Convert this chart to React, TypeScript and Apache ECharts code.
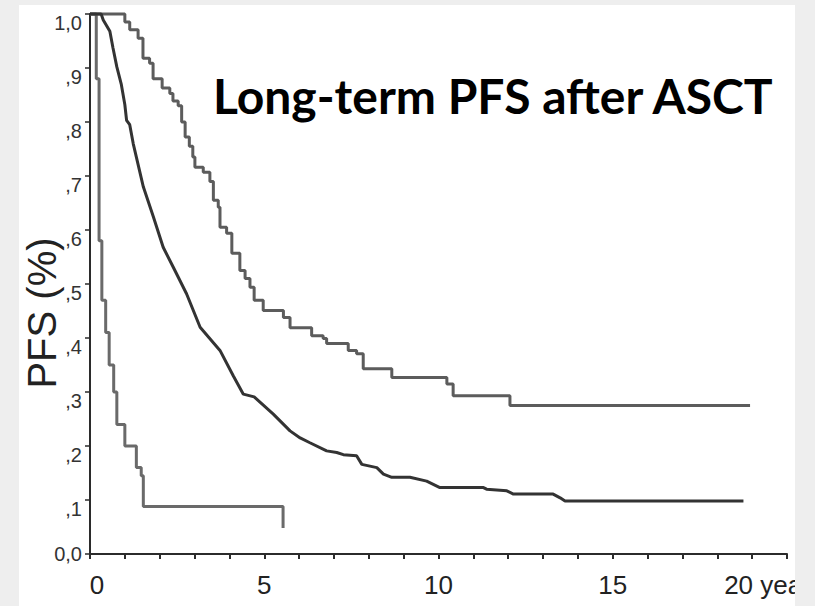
import React, { useEffect, useRef } from "react";
import * as echarts from "echarts";

// Kaplan-Meier curves: [years, PFS]
const curveFast: [number, number][] = [
  [0, 1], [0.18, 0.88], [0.26, 0.58], [0.34, 0.47], [0.45, 0.41], [0.55, 0.35],
  [0.68, 0.3], [0.77, 0.24], [1.0, 0.2], [1.33, 0.16], [1.47, 0.145], [1.53, 0.088],
  [5.54, 0.088], [5.54, 0.048],
];

const curveUpper: [number, number][] = [
  [0, 1], [1.0, 0.985], [1.14, 0.971], [1.38, 0.955], [1.52, 0.918], [1.71, 0.909],
  [1.81, 0.88], [2.07, 0.863], [2.29, 0.853], [2.38, 0.839], [2.53, 0.83], [2.63, 0.8],
  [2.73, 0.772], [2.85, 0.755], [2.95, 0.735], [3.01, 0.716], [3.25, 0.707], [3.44, 0.69],
  [3.54, 0.655], [3.68, 0.642], [3.73, 0.605], [3.92, 0.594], [4.07, 0.557], [4.3, 0.525],
  [4.45, 0.51], [4.59, 0.494], [4.71, 0.47], [4.97, 0.451], [5.55, 0.438], [5.74, 0.419],
  [6.36, 0.404], [6.69, 0.399], [6.79, 0.39], [7.41, 0.377], [7.65, 0.371], [7.84, 0.343],
  [8.66, 0.327], [10.24, 0.315], [10.42, 0.293], [12.05, 0.275], [18.94, 0.275],
];

const curveMiddle: [number, number][] = [
  [0, 1], [0.32, 1.0], [0.38, 0.989], [0.57, 0.968], [0.66, 0.937], [0.77, 0.902],
  [0.9, 0.869], [1.0, 0.832], [1.05, 0.803], [1.14, 0.795], [1.24, 0.76], [1.53, 0.68],
  [1.82, 0.624], [2.1, 0.568], [2.39, 0.531], [2.77, 0.482], [3.16, 0.42], [3.73, 0.377],
  [4.11, 0.33], [4.4, 0.296], [4.71, 0.291], [5.26, 0.259], [5.74, 0.228], [6.03, 0.215],
  [6.31, 0.206], [6.79, 0.191], [7.08, 0.188], [7.27, 0.184], [7.65, 0.182], [7.8, 0.166],
  [8.23, 0.16], [8.42, 0.148], [8.66, 0.142], [9.18, 0.142], [9.66, 0.135], [10.04, 0.123],
  [11.29, 0.123], [11.38, 0.12], [11.96, 0.117], [12.15, 0.111], [13.29, 0.111],
  [13.49, 0.104], [13.63, 0.098], [18.75, 0.098],
];

const xLabelMap: Record<number, string> = { 0: "0", 5: "5", 10: "10", 15: "15", 20: "20 years" };
const yLabelMap: Record<number, string> = {
  0: "0,0", 1: ",1", 2: ",2", 3: ",3", 4: ",4", 5: ",5", 6: ",6", 7: ",7", 8: ",8", 9: ",9", 10: "1,0",
};
const titleText = "Long-term PFS after ASCT";
const yAxisTitle = "PFS (%)";

export default function App() {
  const ref = useRef<HTMLDivElement>(null);
  useEffect(() => {
    const chart = echarts.init(ref.current!, null, { renderer: "svg" });
    const axisColor = "#2b2b2b";
    chart.setOption({
      animation: false,
      backgroundColor: "#eeeeee",
      grid: { left: 90, top: 14, right: 28, bottom: 52, containLabel: false, outerBoundsMode: "none" },
      xAxis: {
        type: "value",
        min: 0,
        max: 20,
        interval: 1,
        axisLine: { show: true, lineStyle: { color: axisColor, width: 2 } },
        axisTick: { show: true, inside: false, length: 5, lineStyle: { color: axisColor, width: 2 } },
        splitLine: { show: false },
        axisLabel: {
          margin: 18,
          hideOverlap: false,
          formatter: (v: number) => {
            const k = Math.round(v);
            if (!(k in xLabelMap)) return "";
            if (k === 0) return "{z|0}";
            if (k === 20) return "{e|" + xLabelMap[k] + "}";
            return "{n|" + xLabelMap[k] + "}";
          },
          rich: {
            n: { fontFamily: "Liberation Sans, Arial", fontSize: 26, color: "#222" },
            z: { fontFamily: "Liberation Sans, Arial", fontSize: 26, color: "#222", padding: [0, 0, 0, 14] },
            e: { fontFamily: "Liberation Sans, Arial", fontSize: 26, color: "#222", padding: [0, 26, 0, 0] },
          },
        },
      },
      yAxis: {
        type: "value",
        min: 0,
        max: 1,
        interval: 0.1,
        axisLine: { show: true, lineStyle: { color: axisColor, width: 2 } },
        axisTick: { show: true, inside: false, length: 5, lineStyle: { color: axisColor, width: 1.5 } },
        splitLine: { show: false },
        axisLabel: {
          margin: 8,
          formatter: (v: number) => {
            const k = Math.round(v * 10);
            return k === 0 ? "{z|" + yLabelMap[k] + "}" : "{n|" + yLabelMap[k] + "}";
          },
          rich: {
            n: { fontFamily: "Liberation Sans, Arial", fontSize: 20, color: "#333", padding: [18, 0, 0, 0] },
            z: { fontFamily: "Liberation Sans, Arial", fontSize: 20, color: "#333" },
          },
        },
      },
      graphic: [
        {
          type: "rect",
          z: -10,
          silent: true,
          shape: { x: 19, y: 5, width: 776, height: 601 },
          style: { fill: "#ffffff" },
        },
        {
          type: "rect",
          z: 100,
          silent: true,
          shape: { x: 795, y: 0, width: 20, height: 606 },
          style: { fill: "#eeeeee" },
        },
        {
          type: "text",
          z: 50,
          x: 213,
          y: 71,
          style: {
            text: titleText,
            fontFamily: "Lato",
            fontWeight: "bold",
            fontSize: 48,
            fill: "#000",
            textVerticalAlign: "top",
          },
        },
        {
          type: "text",
          z: 50,
          x: 42,
          y: 313,
          rotation: Math.PI / 2,
          style: {
            text: yAxisTitle,
            fontFamily: "Liberation Sans, Arial",
            fontSize: 40,
            fill: "#222",
            align: "center",
            verticalAlign: "middle",
          },
        },
      ],
      series: [
        {
          type: "line",
          step: "end",
          data: curveFast,
          symbol: "none",
          clip: false,
          lineStyle: { color: "#6a6a6a", width: 3 },
        },
        {
          type: "line",
          step: "end",
          data: curveUpper,
          symbol: "none",
          clip: false,
          lineStyle: { color: "#5c5c5c", width: 3 },
        },
        {
          type: "line",
          data: curveMiddle,
          symbol: "none",
          clip: false,
          lineStyle: { color: "#333333", width: 3 },
        },
      ],
    });
    return () => chart.dispose();
  }, []);
  return <div ref={ref} style={{ position: "fixed", left: 0, top: 0, width: 815, height: 606 }} />;
}
